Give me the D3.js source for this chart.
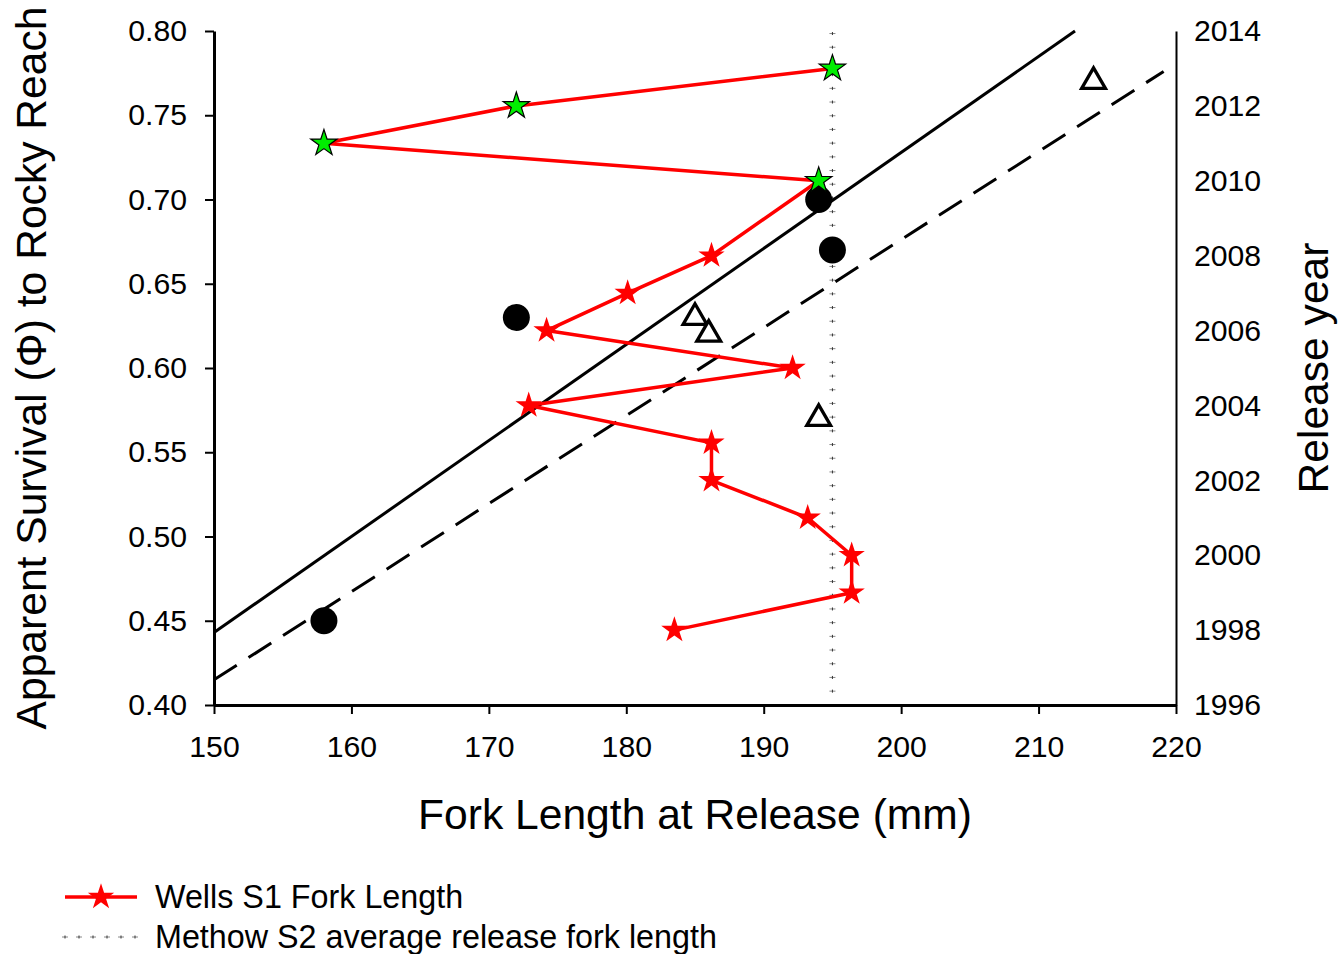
<!DOCTYPE html>
<html>
<head>
<meta charset="utf-8">
<script src="https://cdn.jsdelivr.net/npm/d3@7"></script>
<style>
  html, body { margin: 0; padding: 0; background: #fff; }
  svg { display: block; font-family: "Liberation Sans", Arial, sans-serif; }
</style>
</head>
<body>
<svg id="chart" width="1339" height="954"></svg>
<script>
// Wells S1 release fork length by release year (right axis)
const releaseYears = [1998, 1999, 2000, 2001, 2002, 2003, 2004, 2005, 2006, 2007, 2008, 2010, 2011, 2012, 2013];
const wellsForkLength = [183.5, 196.4, 196.4, 193.2, 186.2, 186.2, 172.9, 192.1, 174.2, 180.1, 186.2, 194.0, 158.0, 172.0, 195.0];
// years drawn with green star markers
const greenYears = [2010, 2011, 2012, 2013];

// Apparent survival vs fork length (left axis)
const circleForkLength = [158, 172, 194, 195];
const circleSurvival = [0.45, 0.63, 0.70, 0.67];
const triangleForkLength = [185, 186, 194, 214];
const triangleSurvival = [0.63, 0.62, 0.57, 0.77];

// Trend lines (end points)
const solidTrendX = [150, 212.65];
const solidTrendY = [0.443, 0.80];
const dashedTrendX = [150, 219.1];
const dashedTrendY = [0.415, 0.776];

// Methow S2 average release fork length (vertical reference)
const methowForkLength = 195;
const methowYearRange = [1996.37, 2013.95];

// Axis ticks
const xTicks = [150, 160, 170, 180, 190, 200, 210, 220];
const yLeftTicks = [0.40, 0.45, 0.50, 0.55, 0.60, 0.65, 0.70, 0.75, 0.80];
const yRightTicks = [1996, 1998, 2000, 2002, 2004, 2006, 2008, 2010, 2012, 2014];

const svg = d3.select("#chart");
const plot = { left: 214, right: 1176, top: 31, bottom: 705 };

const x = d3.scaleLinear().domain([150, 220]).range([plot.left, plot.right]);
const yL = d3.scaleLinear().domain([0.40, 0.80]).range([plot.bottom, plot.top]);
const yR = d3.scaleLinear().domain([1996, 2014]).range([plot.bottom, plot.top]);

const tickFont = 30.2;
const titleFont = 42.6;
const legendFont = 32.3;

// Left axis
const gL = svg.append("g").attr("transform", `translate(${plot.left},0)`)
  .call(d3.axisLeft(yL).tickValues(yLeftTicks).tickFormat(d3.format(".2f")).tickSize(9).tickPadding(18).tickSizeOuter(0));
gL.select(".domain").attr("stroke-width", 3);
gL.selectAll(".tick line").attr("stroke-width", 2);
gL.selectAll("text").attr("font-size", tickFont).attr("fill", "#000").attr("font-family", "Liberation Sans, Arial, sans-serif");

// Bottom axis
const gB = svg.append("g").attr("transform", `translate(0,${plot.bottom})`)
  .call(d3.axisBottom(x).tickValues(xTicks).tickFormat(d3.format("d")).tickSize(9).tickPadding(22).tickSizeOuter(0));
gB.select(".domain").attr("stroke-width", 3);
gB.selectAll(".tick line").attr("stroke-width", 2);
gB.selectAll("text").attr("font-size", tickFont).attr("fill", "#000").attr("font-family", "Liberation Sans, Arial, sans-serif");

// Right axis (no tick marks)
const gR = svg.append("g").attr("transform", `translate(${plot.right},0)`)
  .call(d3.axisRight(yR).tickValues(yRightTicks).tickFormat(d3.format("d")).tickSize(0).tickPadding(18).tickSizeOuter(0));
gR.select(".domain").attr("stroke-width", 2);
gR.selectAll("text").attr("font-size", tickFont).attr("fill", "#000").attr("font-family", "Liberation Sans, Arial, sans-serif");

// Axis titles
svg.append("text")
  .attr("x", (plot.left + plot.right) / 2).attr("y", 829)
  .attr("text-anchor", "middle").attr("font-size", titleFont)
  .text("Fork Length at Release (mm)");
svg.append("text")
  .attr("transform", `translate(46,${(plot.top + plot.bottom) / 2}) rotate(-90)`)
  .attr("text-anchor", "middle").attr("font-size", titleFont)
  .text("Apparent Survival (Φ) to Rocky Reach");
svg.append("text")
  .attr("transform", `translate(1328,${(plot.top + plot.bottom) / 2}) rotate(-90)`)
  .attr("text-anchor", "middle").attr("font-size", titleFont)
  .text("Release year");

// Methow S2 reference line drawn as small "+" markers
const methowX = x(methowForkLength);
const methowTop = yR(methowYearRange[1]);
const methowBottom = yR(methowYearRange[0]);
const plusStep = 13.7;
const plusYs = d3.range(methowBottom, methowTop, -plusStep);
function drawPlus(g, cx, cy) {
  g.append("line").attr("x1", cx - 3).attr("x2", cx + 3).attr("y1", cy).attr("y2", cy)
    .attr("stroke", "#888").attr("stroke-width", 1);
  g.append("line").attr("x1", cx).attr("x2", cx).attr("y1", cy - 1.5).attr("y2", cy + 1.5)
    .attr("stroke", "#333").attr("stroke-width", 1);
}
const gM = svg.append("g");
plusYs.forEach(py => drawPlus(gM, methowX, py));

// Trend lines
const lineGen = d3.line().x(d => x(d[0])).y(d => yL(d[1]));
svg.append("path")
  .datum(d3.zip(solidTrendX, solidTrendY))
  .attr("d", lineGen).attr("fill", "none").attr("stroke", "#000").attr("stroke-width", 3);
svg.append("path")
  .datum(d3.zip(dashedTrendX, dashedTrendY))
  .attr("d", lineGen).attr("fill", "none").attr("stroke", "#000").attr("stroke-width", 3)
  .attr("stroke-dasharray", "27,14");

// Survival markers
svg.append("g").selectAll("circle")
  .data(d3.zip(circleForkLength, circleSurvival))
  .join("circle")
  .attr("cx", d => x(d[0])).attr("cy", d => yL(d[1])).attr("r", 13.5).attr("fill", "#000");

const triangle = d3.symbol(d3.symbolTriangle, 245);
svg.append("g").selectAll("path")
  .data(d3.zip(triangleForkLength, triangleSurvival))
  .join("path")
  .attr("transform", d => `translate(${x(d[0])},${yL(d[1])})`)
  .attr("d", triangle).attr("fill", "#fff").attr("stroke", "#000").attr("stroke-width", 3.3);

// Wells S1 fork length series
const wells = d3.zip(wellsForkLength, releaseYears);
svg.append("path")
  .datum(wells)
  .attr("d", d3.line().x(d => x(d[0])).y(d => yR(d[1])))
  .attr("fill", "none").attr("stroke", "#ff0000").attr("stroke-width", 3.5).attr("stroke-linejoin", "round");

const star = d3.symbol(d3.symbolStar, 215);
svg.append("g").selectAll("path")
  .data(wells)
  .join("path")
  .attr("transform", d => `translate(${x(d[0])},${yR(d[1])})`)
  .attr("d", star)
  .attr("fill", d => greenYears.includes(d[1]) ? "#00ee00" : "#ff0000")
  .attr("stroke", d => greenYears.includes(d[1]) ? "#000" : "none")
  .attr("stroke-width", 1.2);

// Legend
const legend = svg.append("g");
legend.append("line").attr("x1", 65).attr("x2", 137).attr("y1", 897).attr("y2", 897)
  .attr("stroke", "#ff0000").attr("stroke-width", 3.5);
legend.append("path").attr("transform", "translate(101,897)").attr("d", star).attr("fill", "#ff0000");
legend.append("text").attr("x", 155).attr("y", 897).attr("dy", "0.35em").attr("font-size", legendFont)
  .text("Wells S1 Fork Length");
d3.range(0, 6).forEach(i => drawPlus(legend, 65 + i * 14, 937));
legend.append("text").attr("x", 155).attr("y", 937).attr("dy", "0.35em").attr("font-size", legendFont)
  .text("Methow S2 average release fork length");
</script>
</body>
</html>
